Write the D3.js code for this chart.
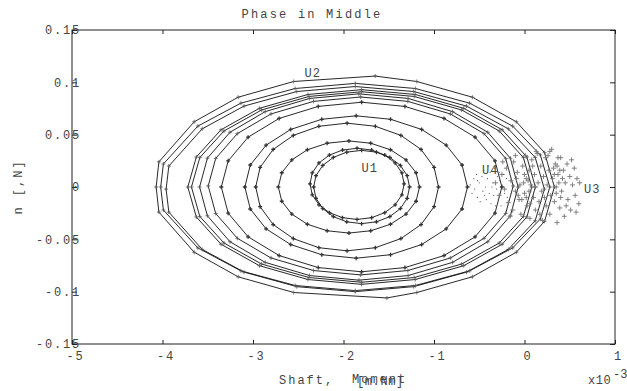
<!DOCTYPE html>
<html>
<head>
<meta charset="utf-8">
<script src="https://cdn.jsdelivr.net/npm/d3@7"></script>
<style>
  body { margin: 0; background: #fff; }
  text { font-family: "Liberation Mono", "DejaVu Sans Mono", monospace; font-size: 12px; fill: #444; }
</style>
</head>
<body>
<div id="chart"></div>
<script>
// axis ticks
const xTicks = [-5, -4, -3, -2, -1, 0, 1];
const xTickLabels = ["-5", "-4", "-3", "-2", "-1", "0", "1"];
const yTicks = [-0.15, -0.1, -0.05, 0, 0.05, 0.1, 0.15];
const yTickLabels = ["-0.15", "-0.1", "-0.05", "0", "0.05", "0.1", "0.15"];

// phase loops, [moment, n]
const loop1 = [[-1.33,.003],[-1.355,.0135],[-1.429,.023],[-1.544,.0305],[-1.689,.0353],[-1.85,.037],[-2.011,.0353],[-2.156,.0305],[-2.271,.023],[-2.345,.0135],[-2.37,.003],[-2.345,-.0075],[-2.271,-.017],[-2.156,-.0245],[-2.011,-.0293],[-1.85,-.031],[-1.689,-.0293],[-1.544,-.0245],[-1.429,-.017],[-1.355,-.0075]];
const loop2 = [[-1.27,0],[-1.296,.0108],[-1.371,.0206],[-1.488,.0283],[-1.636,.0333],[-1.8,.035],[-1.964,.0333],[-2.112,.0283],[-2.229,.0206],[-2.304,.0108],[-2.33,0],[-2.304,-.0108],[-2.229,-.0206],[-2.112,-.0283],[-1.964,-.0333],[-1.8,-.035],[-1.636,-.0333],[-1.488,-.0283],[-1.371,-.0206],[-1.296,-.0108]];
const loop3 = [[-1.16,0],[-1.198,.0136],[-1.309,.0259],[-1.481,.0356],[-1.699,.0418],[-1.94,.044],[-2.181,.0418],[-2.399,.0356],[-2.571,.0259],[-2.682,.0136],[-2.72,0],[-2.682,-.0136],[-2.571,-.0259],[-2.399,-.0356],[-2.181,-.0418],[-1.94,-.044],[-1.699,-.0418],[-1.481,-.0356],[-1.309,-.0259],[-1.198,-.0136]];
const loop4 = [[-0.95,0],[-0.999,.0188],[-1.143,.0359],[-1.366,.0493],[-1.648,.058],[-1.96,.061],[-2.272,.058],[-2.554,.0493],[-2.777,.0359],[-2.921,.0188],[-2.97,0],[-2.921,-.0188],[-2.777,-.0359],[-2.554,-.0493],[-2.272,-.058],[-1.96,-.061],[-1.648,-.058],[-1.366,-.0493],[-1.143,-.0359],[-0.999,-.0188]];
const loop5 = [[-0.63,0],[-0.69,.021],[-0.865,.04],[-1.137,.055],[-1.48,.0647],[-1.86,.068],[-2.24,.0647],[-2.583,.055],[-2.855,.04],[-3.03,.021],[-3.09,0],[-3.03,-.021],[-2.855,-.04],[-2.583,-.055],[-2.24,-.0647],[-1.86,-.068],[-1.48,-.0647],[-1.137,-.055],[-0.865,-.04],[-0.69,-.021]];
const loop6 = [[-0.25,0],[-0.326,.025],[-0.546,.0476],[-0.889,.0655],[-1.321,.077],[-1.8,.081],[-2.279,.077],[-2.711,.0655],[-3.054,.0476],[-3.274,.025],[-3.35,0],[-3.274,-.025],[-3.054,-.0476],[-2.711,-.0655],[-2.279,-.077],[-1.8,-.081],[-1.321,-.077],[-0.889,-.0655],[-0.546,-.0476],[-0.326,-.025]];
const loop7 = [[-0.125,.001],[-0.208,.0273],[-0.447,.051],[-0.819,.0698],[-1.289,.0818],[-1.81,.086],[-2.331,.0818],[-2.801,.0698],[-3.173,.051],[-3.412,.0273],[-3.495,.001],[-3.412,-.0253],[-3.173,-.049],[-2.801,-.0678],[-2.331,-.0798],[-1.81,-.084],[-1.289,-.0798],[-0.819,-.0678],[-0.447,-.049],[-0.208,-.0253]];
const loop8 = [[-0.07,0],[-0.156,.0275],[-0.406,.0523],[-0.795,.072],[-1.286,.0846],[-1.83,.089],[-2.374,.0846],[-2.865,.072],[-3.254,.0523],[-3.504,.0275],[-3.59,0],[-3.504,-.0275],[-3.254,-.0523],[-2.865,-.072],[-2.374,-.0846],[-1.83,-.089],[-1.286,-.0846],[-0.795,-.072],[-0.406,-.0523],[-0.156,-.0275]];
const loop9 = [[0.08,0],[-0.012,.0281],[-0.279,.0535],[-0.695,.0736],[-1.219,.0865],[-1.8,.091],[-2.381,.0865],[-2.905,.0736],[-3.321,.0535],[-3.588,.0281],[-3.68,0],[-3.588,-.0281],[-3.321,-.0535],[-2.905,-.0736],[-2.381,-.0865],[-1.8,-.091],[-1.219,-.0865],[-0.695,-.0736],[-0.279,-.0535],[-0.012,-.0281]];
const loop10 = [[0.12,0],[0.026,.0287],[-0.247,.0547],[-0.671,.0752],[-1.207,.0884],[-1.8,.093],[-2.393,.0884],[-2.929,.0752],[-3.353,.0547],[-3.626,.0287],[-3.72,0],[-3.626,-.0287],[-3.353,-.0547],[-2.929,-.0752],[-2.393,-.0884],[-1.8,-.093],[-1.207,-.0884],[-0.671,-.0752],[-0.247,-.0547],[0.026,-.0287]];
const loop11 = [[0.22,-.002],[0.118,.0283],[-0.179,.0556],[-0.641,.0773],[-1.224,.0912],[-1.87,.096],[-2.516,.0912],[-3.099,.0773],[-3.561,.0556],[-3.93,.02],[-3.96,-.002],[-3.93,-.024],[-3.561,-.0596],[-3.099,-.0813],[-2.516,-.0952],[-1.87,-.1],[-1.224,-.0952],[-0.641,-.0813],[-0.179,-.0596],[0.118,-.0323]];
const loop12 = [[0.28,0],[0.175,.0306],[-0.131,.0582],[-0.606,.0801],[-1.206,.0941],[-1.87,.099],[-2.534,.0941],[-3.134,.0801],[-3.609,.0582],[-3.99,.022],[-4.02,0],[-3.99,-.022],[-3.609,-.0582],[-3.134,-.0801],[-2.534,-.0941],[-1.87,-.099],[-1.206,-.0941],[-0.606,-.0801],[-0.131,-.0582],[0.175,-.0306]];
const loop13 = [[0.33,0],[0.222,.0328],[-0.09,.0623],[-0.576,.0858],[-1.19,.1008],[-1.65,.106],[-2.55,.1008],[-3.164,.0858],[-3.65,.0623],[-4.04,.024],[-4.07,0],[-4.04,-.024],[-3.65,-.0623],[-3.164,-.0858],[-2.55,-.1008],[-1.52,-.106],[-1.19,-.1008],[-0.576,-.0858],[-0.09,-.0623],[0.222,-.0328]];
const loops = [loop1, loop2, loop3, loop4, loop5, loop6, loop7, loop8, loop9, loop10, loop11, loop12, loop13];

// scattered end states
const u3Points = [[-0.32,0.004],[-0.28,-0.008],[-0.25,0.012],[-0.22,-0.002],[-0.2,0.018],[-0.18,-0.015],[-0.15,0.006],[-0.13,-0.022],[-0.12,0.024],[-0.1,-0.004],[-0.08,0.014],[-0.06,-0.012],[-0.05,0.002],[-0.04,-0.026],[-0.02,0.02],[0.0,-0.006],[0.01,0.03],[0.02,0.008],[0.03,-0.018],[0.05,0.016],[0.06,-0.03],[0.07,0.002],[0.08,0.026],[0.1,-0.01],[0.11,0.012],[0.12,-0.022],[0.14,0.032],[0.15,0.004],[0.16,-0.014],[0.18,0.02],[0.19,-0.004],[0.2,-0.032],[0.21,0.01],[0.23,0.028],[0.24,-0.018],[0.25,0.002],[0.27,0.016],[0.28,-0.026],[0.29,-0.008],[0.3,0.036],[0.31,0.008],[0.33,-0.014],[0.34,0.022],[0.35,0.0],[0.36,-0.034],[0.37,0.012],[0.39,-0.02],[0.4,0.028],[0.41,-0.004],[0.43,0.016],[0.44,-0.028],[0.45,0.004],[0.47,0.022],[0.48,-0.012],[0.5,0.01],[0.51,-0.022],[0.53,0.002],[0.55,0.018],[0.56,-0.008],[0.58,0.008],[0.6,-0.016],[0.61,0.004],[-0.1,0.03],[0.05,-0.004],[0.12,0.0],[0.22,-0.01],[0.32,0.018],[0.42,0.008],[-0.07,-0.008],[-0.03,-0.012],[-0.01,0.004],[0.02,-0.01],[0.04,0.006],[-0.09,0.008],[0.0,0.012],[0.06,-0.016],[0.33,0.012],[0.36,0.02],[0.38,0.004],[0.35,-0.006],[0.39,0.016],[0.4,-0.01],[0.37,0.028],[0.26,0.03],[0.17,-0.026],[0.09,0.02],[0.46,-0.018],[0.52,0.026],[0.57,-0.024],[-0.16,-0.028],[-0.24,0.024],[0.13,0.034],[0.28,0.034]];
const u4Points = [[-0.6,0.002],[-0.58,-0.006],[-0.56,0.008],[-0.55,-0.002],[-0.53,0.012],[-0.52,-0.01],[-0.5,0.004],[-0.49,-0.014],[-0.47,0.01],[-0.46,-0.004],[-0.45,0.016],[-0.43,0.0],[-0.42,-0.012],[-0.41,0.008],[-0.39,-0.006],[-0.38,0.014],[-0.37,-0.016],[-0.35,0.004],[-0.34,-0.008],[-0.33,0.018],[-0.31,-0.002],[-0.3,0.01],[-0.29,-0.012],[-0.27,0.006],[-0.26,-0.018],[-0.25,0.002],[-0.23,0.012],[-0.22,-0.006],[-0.2,0.008],[-0.19,-0.01],[-0.52,0.006],[-0.44,-0.008],[-0.36,0.0],[-0.28,0.014],[-0.4,0.02],[-0.32,-0.018]];

// point labels
const labelNames = ["U1", "U2", "U3", "U4"];
const labelX = [-1.80, -2.43, 0.657, -0.47];
const labelY = [0.014, 0.105, -0.006, 0.012];

const W = 627, H = 391;
const m = {left: 72, right: 12, top: 30, bottom: 47};

const svg = d3.select("#chart").append("svg")
  .attr("width", W).attr("height", H);

const x = d3.scaleLinear().domain([-5, 1]).range([m.left, W - m.right]);
const y = d3.scaleLinear().domain([-0.15, 0.15]).range([H - m.bottom, m.top]);

// frame
svg.append("rect")
  .attr("x", x(-5)).attr("y", y(0.15))
  .attr("width", x(1) - x(-5)).attr("height", y(-0.15) - y(0.15))
  .attr("fill", "none").attr("stroke", "#222").attr("stroke-width", 1);

// axes, ticks pointing inward
const fmtX = (d, i) => xTickLabels[i];
const fmtY = (d, i) => yTickLabels[i];

const gx = svg.append("g").attr("transform", `translate(0,${y(-0.15)})`)
  .call(d3.axisBottom(x).tickValues(xTicks).tickFormat(fmtX).tickSizeInner(-4).tickSizeOuter(0).tickPadding(7));
svg.append("g").attr("transform", `translate(0,${y(0.15)})`)
  .call(d3.axisTop(x).tickValues(xTicks).tickFormat("").tickSizeInner(-4).tickSizeOuter(0));
const gy = svg.append("g").attr("transform", `translate(${x(-5)},0)`)
  .call(d3.axisLeft(y).tickValues(yTicks).tickFormat(fmtY).tickSizeInner(-5).tickSizeOuter(0).tickPadding(-9));
svg.append("g").attr("transform", `translate(${x(1)},0)`)
  .call(d3.axisRight(y).tickValues(yTicks).tickFormat("").tickSizeInner(-5).tickSizeOuter(0));

svg.selectAll(".domain").remove();
svg.selectAll(".tick line").attr("stroke", "#222");
svg.selectAll(".tick text").attr("font-family", null).attr("font-size", null)
  .style("letter-spacing", "1.8px");
gx.selectAll(".tick text").attr("dx", "3");

// loops
const line = d3.line().x(d => x(d[0])).y(d => y(d[1])).curve(d3.curveLinearClosed);
const plot = svg.append("g");
plot.selectAll("path.loop").data(loops).join("path")
  .attr("class", "loop")
  .attr("d", line)
  .attr("fill", "none").attr("stroke", "#111").attr("stroke-width", 0.9);

const plus = "M-2,0H2M0,-2V2";
loops.forEach((lp, i) => {
  plot.append("g").selectAll("path").data(lp).join("path")
    .attr("transform", d => `translate(${x(d[0])},${y(d[1])})`)
    .attr("d", plus)
    .attr("stroke", i < 6 ? "#333" : "#555")
    .attr("stroke-width", i < 6 ? 1.3 : 0.8);
});

// U3 cloud
plot.append("g").selectAll("path").data(u3Points).join("path")
  .attr("transform", d => `translate(${x(d[0])},${y(d[1])})`)
  .attr("d", "M-2.5,0H2.5M0,-2.5V2.5")
  .attr("stroke", "#777").attr("stroke-width", 0.9);

// U4 dots
plot.append("g").selectAll("circle").data(u4Points).join("circle")
  .attr("cx", d => x(d[0])).attr("cy", d => y(d[1]))
  .attr("r", 0.6).attr("fill", "#555");

// labels
svg.append("g").selectAll("text").data(labelNames).join("text")
  .attr("x", (d, i) => x(labelX[i])).attr("y", (d, i) => y(labelY[i]))
  .style("letter-spacing", "1px")
  .text(d => d);

// titles
svg.append("text").attr("x", 312).attr("y", 18).attr("text-anchor", "middle")
  .style("letter-spacing", "2.2px").text("Phase in Middle");
svg.append("text").attr("x", 279).attr("y", 384)
  .style("letter-spacing", "2px").text("Shaft,");
svg.append("text").attr("x", 352).attr("y", 383)
  .style("letter-spacing", "2px").text("Moment");
svg.append("text").attr("x", 357).attr("y", 385)
  .style("letter-spacing", "0.6px").text("[m.Nm]");
svg.append("text").attr("x", 588).attr("y", 384)
  .style("letter-spacing", "0.5px").text("x10");
svg.append("text").attr("x", 613).attr("y", 378).attr("font-size", "8px")
  .text("-3");
svg.append("text")
  .attr("transform", "translate(22,187) rotate(-90)")
  .attr("text-anchor", "middle")
  .style("letter-spacing", "2px")
  .text("n [,N]");
</script>
</body>
</html>
